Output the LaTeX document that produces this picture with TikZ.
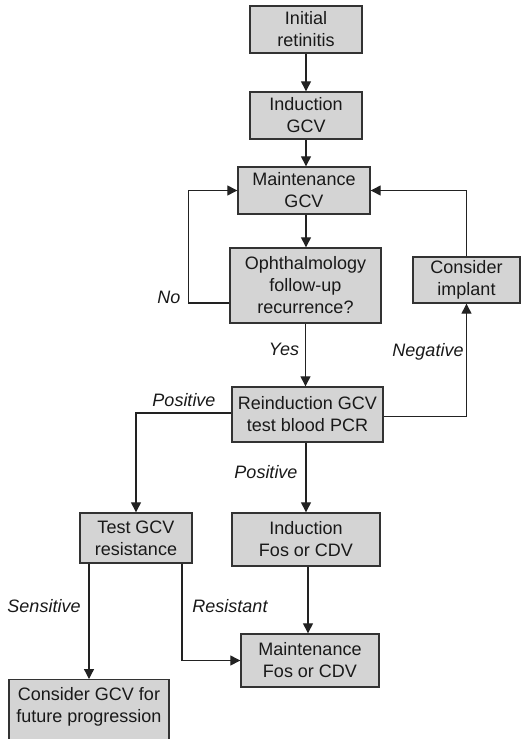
\documentclass[tikz,border=0pt]{standalone}
\usepackage{fontspec}
\setmainfont{Liberation Sans}
\usetikzlibrary{arrows.meta,calc}
\definecolor{boxfill}{HTML}{D4D4D4}
\definecolor{boxline}{HTML}{333333}
\definecolor{lineclr}{HTML}{222222}
\tikzset{
  box/.style={draw=boxline, fill=boxfill, line width=1.4pt, align=center, inner sep=0pt,
    font=\fontsize{18}{22}\selectfont, text=black!90},
  conn/.style={draw=lineclr, line width=1.3pt, -{Triangle[length=10pt,width=10pt]}},
  lbl/.style={font=\fontsize{18}{22}\selectfont\itshape, text=black!90, inner sep=0pt}
}
\begin{document}
\begin{tikzpicture}[x=1pt,y=-1pt]
\useasboundingbox (0,0) rectangle (521,739);
\clip (0,0) rectangle (521,739);
\node[box, minimum width=112, minimum height=47] (init) at (306,29.5) {Initial\\retinitis};
\node[box, minimum width=112, minimum height=47] (indg) at (306,115.5) {Induction\\GCV};
\node[box, minimum width=132, minimum height=47] (maint) at (304,190.5) {Maintenance\\GCV};
\node[box, minimum width=151, minimum height=75] (oph) at (305.5,285.5) {Ophthalmology\\follow-up\\recurrence?};
\node[box, minimum width=107, minimum height=46] (impl) at (466.5,280) {Consider\\implant};
\node[box, minimum width=151, minimum height=55] (reind) at (307.5,414.5) {Reinduction GCV\\test blood PCR};
\node[box, minimum width=112, minimum height=50] (test) at (136,538) {Test GCV\\resistance};
\node[box, minimum width=148, minimum height=53] (indf) at (306,539.5) {Induction\\Fos or CDV};
\node[box, minimum width=138, minimum height=53] (maintf) at (310,660.5) {Maintenance\\Fos or CDV};
\node[box, minimum width=160, minimum height=70, anchor=north] (cons) at (89,679) {};
\node[box, draw=none, fill=none] (constext) at ($(cons.north)+(0,28)$) {Consider GCV for\\future progression};

\draw[conn] (init.south) -- (indg.north);
\draw[conn] (indg.south) -- (indg.south |- maint.north);
\draw[conn] ([xshift=2pt]maint.south) -- ([xshift=2pt]maint.south |- oph.north);
\draw[conn] ([yshift=-17.5pt]oph.west) -- ++(-41,0) |- (maint.west);
\draw[conn] (oph.south) -- (oph.south |- reind.north);
\draw[conn] ([yshift=-2pt]reind.east) -| (impl.south);
\draw[conn] (impl.north) |- (maint.east);
\draw[conn] ([yshift=1.5pt]reind.west) -| (test.north);
\draw[conn] (reind.south -| indf.north) -- (indf.north);
\draw[conn] ([xshift=2pt]indf.south) -- ([xshift=2pt]indf.south |- maintf.north);
\draw[conn] (test.south -| cons.north) -- (cons.north);
\draw[conn] ([xshift=46pt]test.south) |- (maintf.west);

\node[lbl] (lno) at (169,297) {No};
\node[lbl] (lyes) at (284,349) {Yes};
\node[lbl] (lneg) at (428,352) {Negative};
\node[lbl] (lpos1) at (184,400) {Positive};
\node[lbl] (lpos2) at (266,472) {Positive};
\node[lbl] (lsen) at (44,606) {Sensitive};
\node[lbl] (lres) at (230,606) {Resistant};
\end{tikzpicture}
\end{document}
